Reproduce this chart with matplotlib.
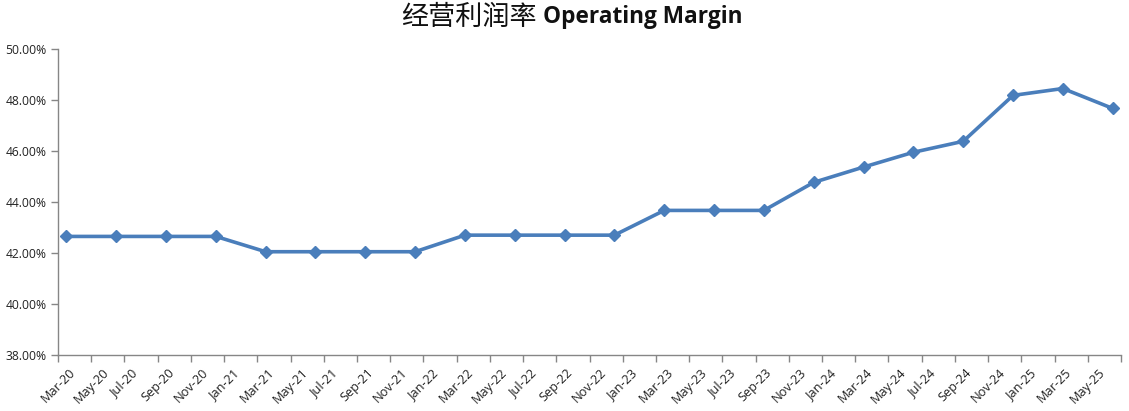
import numpy as np
import matplotlib.pyplot as plt

# quarterly operating margin (%), Mar-20 .. Jun-25
quarters = ['Mar-20', 'Jun-20', 'Sep-20', 'Dec-20',
            'Mar-21', 'Jun-21', 'Sep-21', 'Dec-21',
            'Mar-22', 'Jun-22', 'Sep-22', 'Dec-22',
            'Mar-23', 'Jun-23', 'Sep-23', 'Dec-23',
            'Mar-24', 'Jun-24', 'Sep-24', 'Dec-24',
            'Mar-25', 'Jun-25']
margin = [42.65, 42.65, 42.65, 42.65,
          42.05, 42.05, 42.05, 42.05,
          42.70, 42.70, 42.70, 42.70,
          43.67, 43.67, 43.67, 44.77,
          45.37, 45.95, 46.38, 48.18,
          48.45, 47.67]
tick_labels = ['Mar-20', 'May-20', 'Jul-20', 'Sep-20', 'Nov-20',
               'Jan-21', 'Mar-21', 'May-21', 'Jul-21', 'Sep-21', 'Nov-21',
               'Jan-22', 'Mar-22', 'May-22', 'Jul-22', 'Sep-22', 'Nov-22',
               'Jan-23', 'Mar-23', 'May-23', 'Jul-23', 'Sep-23', 'Nov-23',
               'Jan-24', 'Mar-24', 'May-24', 'Jul-24', 'Sep-24', 'Nov-24',
               'Jan-25', 'Mar-25', 'May-25']

plt.rcParams['font.family'] = ['Open Sans', 'DejaVu Sans']

fig = plt.figure(figsize=(11.29, 4.11), dpi=100)
ax = fig.add_axes([58/1129, 1-355/411, (1121-58)/1129, (355-49)/411])

# month index from Mar-2020, points sit in the middle of their month
x = np.arange(len(margin))*3 + 0.5
ax.plot(x, margin, color='#4A7EBB', lw=2.6, marker='D', ms=6.5,
        markeredgecolor='#4A7EBB', zorder=3)

ax.set_xlim(0, 64)
ax.set_ylim(38, 50)
ax.set_xticks(np.arange(0, 65, 2))
ax.set_xticklabels(tick_labels + [''], rotation=45, ha='center', va='top',
                   fontsize=9.2, color='#222222')
ax.set_yticks(np.arange(38, 50.1, 2))
ax.set_yticklabels(['%.2f%%' % v for v in np.arange(38, 50.1, 2)],
                   fontsize=8.7, color='#222222')
ax.tick_params(axis='both', length=5, color='#868686', width=1)
ax.tick_params(axis='x', pad=3)
ax.tick_params(axis='y', pad=3)

for side in ['top', 'right']:
    ax.spines[side].set_visible(False)
for side in ['left', 'bottom']:
    ax.spines[side].set_color('#868686')
    ax.spines[side].set_linewidth(1)

fig.text(537/1129, 1-17/411, '经营利润率', ha='right', va='center',
         fontsize=19.5, family=['Noto Sans CJK SC', 'DejaVu Sans'], color='#111111')
fig.text(543/1129, 1-17/411, 'Operating Margin', ha='left', va='center',
         fontsize=16.3, fontweight='bold', family=['Open Sans', 'DejaVu Sans'],
         color='#111111')

fig.savefig('out.png', dpi=100)
